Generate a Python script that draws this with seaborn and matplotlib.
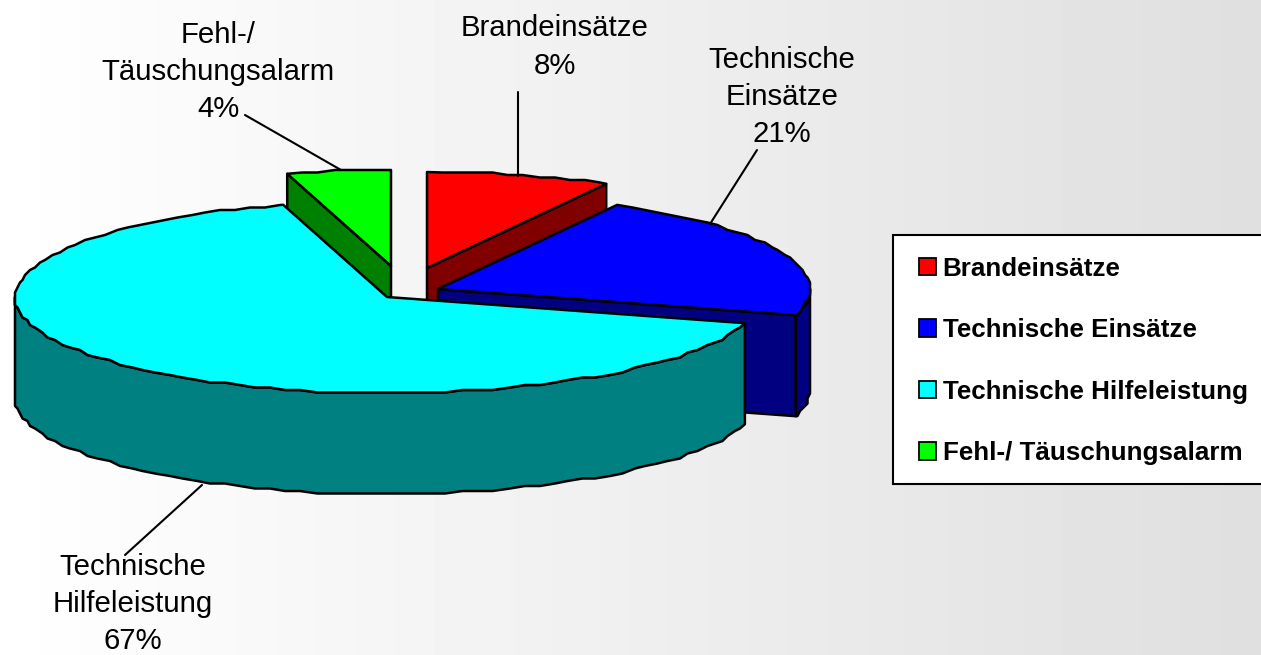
import numpy as np
import matplotlib
matplotlib.use('Agg')
import matplotlib.pyplot as plt
from matplotlib.patches import Polygon, Rectangle, Patch
import seaborn as sns

categories = ['Brandeinsätze', 'Technische Einsätze', 'Technische Hilfeleistung', 'Fehl-/ Täuschungsalarm']
values = [8.0, 21.4, 66.1, 4.5]
percent_labels = ['8%', '21%', '67%', '4%']
slice_labels = ['Brandeinsätze', 'Technische\nEinsätze', 'Technische\nHilfeleistung', 'Fehl-/\nTäuschungsalarm']
colors = ['#FF0000', '#0000FF', '#00FFFF', '#00FF00']

# layout in pixels
apex = [(427, 268), (438, 289), (387, 297), (391, 266)]
label_pos = [(555, 47), (782, 97), (133, 604), (218, 72)]
leaders = [((518, 92), (518, 176)), ((757, 150), (710, 224)), ((202, 485), (125, 555)), ((245, 115), (341, 170))]
RX, RY, DEPTH = 372, 96, 101
GRID = 2.5

sns.set_theme(style='white')
plt.rcParams['font.family'] = ['Liberation Sans', 'DejaVu Sans']

fig = plt.figure(figsize=(12.61, 6.55), dpi=100)
ax = fig.add_axes([0, 0, 1, 1])
ax.set_xlim(0, 1261)
ax.set_ylim(655, 0)
ax.axis('off')

# grey background, white on the left
xx = np.linspace(0, 1, 400).reshape(1, -1)
ax.imshow(1 - 0.125 * xx, cmap='gray', vmin=0, vmax=1,
          extent=[0, 1261, 655, 0], aspect='auto', zorder=0)


def arc(c, t0, t1):
    # low resolution outline, like the scalloped edge of the old chart
    t = np.radians(np.arange(t0, t1, 2.5))
    pts = np.column_stack([c[0] + RX * np.sin(t), c[1] - RY * np.cos(t)])
    pts = np.round(pts / GRID) * GRID
    end = np.radians(t1)
    first = [c[0] + RX * np.sin(np.radians(t0)), c[1] - RY * np.cos(np.radians(t0))]
    last = [c[0] + RX * np.sin(end), c[1] - RY * np.cos(end)]
    return np.vstack([first, pts[1:], last])


def poly(pts, color, z):
    ax.add_patch(Polygon(pts, closed=True, facecolor=color, edgecolor='black', linewidth=1.8,
                         joinstyle='round', zorder=z))


edges = np.concatenate([[0], np.cumsum(values)]) / sum(values) * 360
draw_order = [0, 3, 1, 2]
for z, i in enumerate(draw_order):
    t0, t1 = edges[i], edges[i + 1]
    c = np.array(apex[i], dtype=float)
    dark = tuple(np.array(sns.color_palette([colors[i]])[0]) * 0.5)
    drop = np.array([0, DEPTH])
    top = arc(c, t0, t1)
    z0 = 2 + z * 3
    # cut faces
    if 0 < t1 < 180:
        poly([c, top[-1], top[-1] + drop, c + drop], dark, z0)
    if 180 < t0 < 360:
        poly([c, top[0], top[0] + drop, c + drop], dark, z0)
    # outer wall, front half only
    lo, hi = max(t0, 90), min(t1, 270)
    if lo < hi:
        wall = arc(c, lo, hi)
        poly(np.vstack([wall, wall[::-1] + drop]), dark, z0 + 1)
    poly(np.vstack([[c], top]), colors[i], z0 + 2)

# labels and leader lines
for i in range(len(values)):
    ax.text(label_pos[i][0], label_pos[i][1], slice_labels[i] + '\n' + percent_labels[i], fontsize=21.2,
            ha='center', va='center', color='black', linespacing=1.42, zorder=30)
    (x0, y0), (x1, y1) = leaders[i]
    ax.plot([x0, x1], [y0, y1], color='black', lw=1.5, zorder=31)

# legend, box runs off the right edge
ax.add_patch(Rectangle((893, 235), 380, 249, facecolor='white', edgecolor='black', linewidth=1.5, zorder=32))
handles = [Patch(facecolor=c, edgecolor='black', linewidth=1.3) for c in colors]
leg = ax.legend(handles, categories, loc='upper left', bbox_to_anchor=(911 / 1261, 1 - 249 / 655),
                bbox_transform=fig.transFigure, frameon=False, prop={'weight': 'bold', 'size': 18.7},
                labelcolor='black', handlelength=0.65, handleheight=0.65, handletextpad=0.27,
                labelspacing=1.44, borderpad=0.3, borderaxespad=0)
leg.set_zorder(33)

fig.savefig('out.png', dpi=100)
